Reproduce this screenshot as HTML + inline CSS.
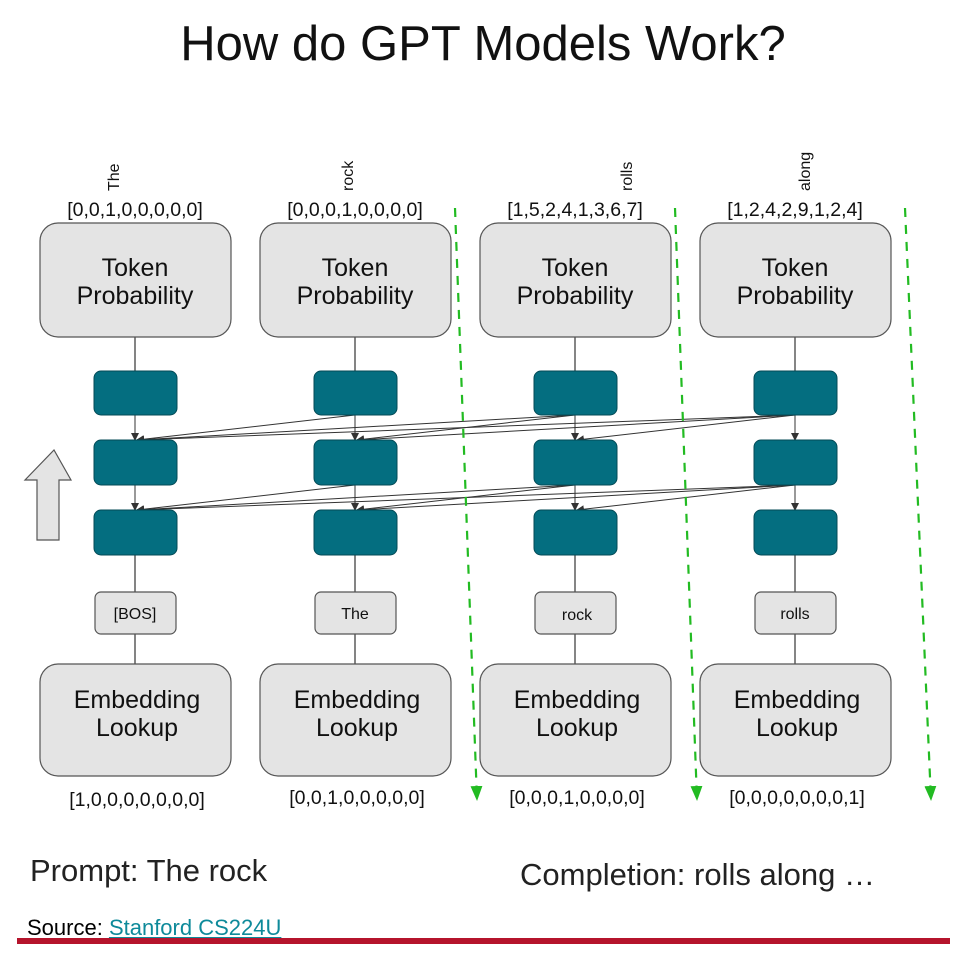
<!DOCTYPE html>
<html><head><style>
body{margin:0;background:#fff;width:971px;height:972px;overflow:hidden;font-family:"Liberation Sans",sans-serif;}
</style></head><body>
<svg width="971" height="972" xmlns="http://www.w3.org/2000/svg" font-family="Liberation Sans, sans-serif">
<defs>
<marker id="a" markerWidth="8" markerHeight="8" refX="7" refY="4" orient="auto" markerUnits="userSpaceOnUse"><path d="M0,0 L8,4 L0,8 z" fill="#333"/></marker>
<marker id="g" markerWidth="16" markerHeight="12" refX="14" refY="6" orient="auto" markerUnits="userSpaceOnUse"><path d="M0,0 L15,6 L0,12 z" fill="#22bb22"/></marker>
</defs>
<text x="483" y="60" font-size="49" text-anchor="middle" fill="#111">How do GPT Models Work?</text>
<g stroke="#333" stroke-width="1.2">
<line x1="135" y1="337" x2="135" y2="371"/><line x1="355" y1="337" x2="355" y2="371"/><line x1="575" y1="337" x2="575" y2="371"/><line x1="795" y1="337" x2="795" y2="371"/>
<line x1="135" y1="555" x2="135" y2="664"/><line x1="355" y1="555" x2="355" y2="664"/><line x1="575" y1="555" x2="575" y2="664"/><line x1="795" y1="555" x2="795" y2="664"/>
</g>
<g stroke="#333" stroke-width="1" marker-end="url(#a)">
<line x1="135" y1="415" x2="135" y2="440"/><line x1="355" y1="415" x2="355" y2="440"/><line x1="575" y1="415" x2="575" y2="440"/><line x1="795" y1="415" x2="795" y2="440"/>
<line x1="355" y1="415" x2="137" y2="440"/><line x1="575" y1="415" x2="137" y2="440"/><line x1="575" y1="415" x2="357" y2="440"/>
<line x1="795" y1="415" x2="137" y2="440"/><line x1="795" y1="415" x2="357" y2="440"/><line x1="795" y1="415" x2="577" y2="440"/>
<line x1="135" y1="485" x2="135" y2="510"/><line x1="355" y1="485" x2="355" y2="510"/><line x1="575" y1="485" x2="575" y2="510"/><line x1="795" y1="485" x2="795" y2="510"/>
<line x1="355" y1="485" x2="137" y2="510"/><line x1="575" y1="485" x2="137" y2="510"/><line x1="575" y1="485" x2="357" y2="510"/>
<line x1="795" y1="485" x2="137" y2="510"/><line x1="795" y1="485" x2="357" y2="510"/><line x1="795" y1="485" x2="577" y2="510"/>
</g>
<g fill="#e4e4e4" stroke="#555" stroke-width="1.2">
<rect x="40" y="223" width="191" height="114" rx="18"/><rect x="260" y="223" width="191" height="114" rx="18"/><rect x="480" y="223" width="191" height="114" rx="18"/><rect x="700" y="223" width="191" height="114" rx="18"/>
<rect x="40" y="664" width="191" height="112" rx="18"/><rect x="260" y="664" width="191" height="112" rx="18"/><rect x="480" y="664" width="191" height="112" rx="18"/><rect x="700" y="664" width="191" height="112" rx="18"/>
<rect x="95" y="592" width="81" height="42" rx="6"/><rect x="315" y="592" width="81" height="42" rx="6"/><rect x="535" y="592" width="81" height="42" rx="6"/><rect x="755" y="592" width="81" height="42" rx="6"/>
<path d="M37,540 L37,480 L25,480 L54,450 L71,480 L59,480 L59,540 Z"/>
</g>
<g fill="#046e80" stroke="#034a56" stroke-width="1">
<rect x="94" y="371" width="83" height="44" rx="7"/><rect x="314" y="371" width="83" height="44" rx="7"/><rect x="534" y="371" width="83" height="44" rx="7"/><rect x="754" y="371" width="83" height="44" rx="7"/>
<rect x="94" y="440" width="83" height="45" rx="7"/><rect x="314" y="440" width="83" height="45" rx="7"/><rect x="534" y="440" width="83" height="45" rx="7"/><rect x="754" y="440" width="83" height="45" rx="7"/>
<rect x="94" y="510" width="83" height="45" rx="7"/><rect x="314" y="510" width="83" height="45" rx="7"/><rect x="534" y="510" width="83" height="45" rx="7"/><rect x="754" y="510" width="83" height="45" rx="7"/>
</g>
<g fill="#111" text-anchor="middle" font-size="25">
<text x="135" y="276">Token</text><text x="135" y="304">Probability</text>
<text x="355" y="276">Token</text><text x="355" y="304">Probability</text>
<text x="575" y="276">Token</text><text x="575" y="304">Probability</text>
<text x="795" y="276">Token</text><text x="795" y="304">Probability</text>
<text x="137" y="708">Embedding</text><text x="137" y="736">Lookup</text>
<text x="357" y="708">Embedding</text><text x="357" y="736">Lookup</text>
<text x="577" y="708">Embedding</text><text x="577" y="736">Lookup</text>
<text x="797" y="708">Embedding</text><text x="797" y="736">Lookup</text>
</g>
<g fill="#111" text-anchor="middle" font-size="16">
<text x="135" y="619">[BOS]</text><text x="355" y="619">The</text><text x="577" y="620">rock</text><text x="795" y="619">rolls</text>
</g>
<g fill="#111" text-anchor="middle" font-size="19.5">
<text x="135" y="216">[0,0,1,0,0,0,0,0]</text><text x="355" y="216">[0,0,0,1,0,0,0,0]</text>
<text x="575" y="216">[1,5,2,4,1,3,6,7]</text><text x="795" y="216">[1,2,4,2,9,1,2,4]</text>
<text x="137" y="806">[1,0,0,0,0,0,0,0]</text><text x="357" y="804">[0,0,1,0,0,0,0,0]</text>
<text x="577" y="804">[0,0,0,1,0,0,0,0]</text><text x="797" y="804">[0,0,0,0,0,0,0,1]</text>
</g>
<g fill="#111" font-size="16">
<text transform="translate(119,191) rotate(-90)">The</text>
<text transform="translate(353,191) rotate(-90)">rock</text>
<text transform="translate(632,191) rotate(-90)">rolls</text>
<text transform="translate(810,191) rotate(-90)">along</text>
</g>
<g stroke="#22bb22" stroke-width="2.2" stroke-dasharray="9,8" fill="none" marker-end="url(#g)">
<line x1="455" y1="208" x2="477" y2="800"/>
<line x1="675" y1="208" x2="697" y2="800"/>
<line x1="905" y1="208" x2="931" y2="800"/>
</g>
<text x="30" y="881" font-size="31" fill="#222">Prompt: The rock</text>
<text x="520" y="885" font-size="31" fill="#222">Completion: rolls along …</text>
<text x="27" y="935" font-size="22" fill="#000">Source: <tspan fill="#0e8a9a" text-decoration="underline">Stanford CS224U</tspan></text>
<rect x="17" y="938" width="933" height="6" fill="#b5142c"/>
</svg>
</body></html>
